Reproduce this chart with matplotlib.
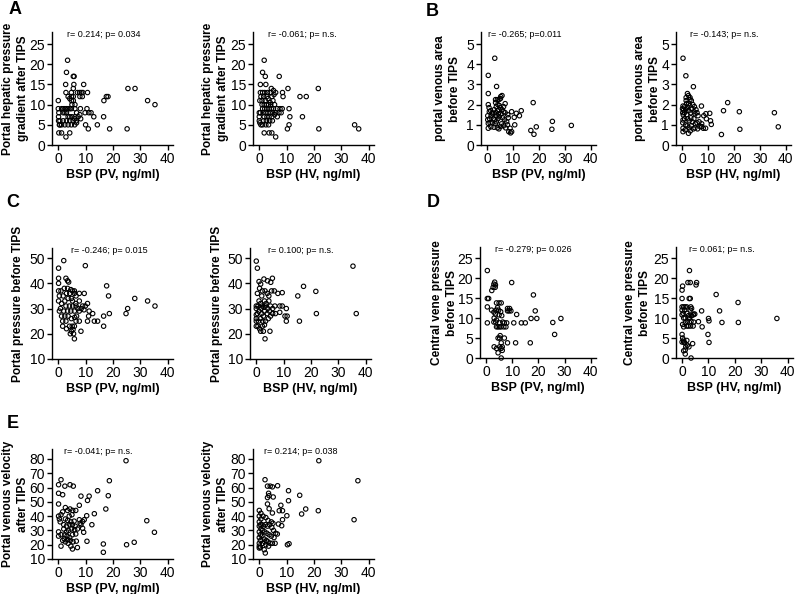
import matplotlib.pyplot as plt
import numpy as np

plt.rcParams['font.family'] = ['Liberation Sans', 'DejaVu Sans']

W, H = 800, 594

# A: portal hepatic pressure gradient after TIPS
a1_x = [3.4, 3, 5.5, 5.8, 2.7, 5.7, 9.3, 5.5, 2.8, 4.8, 7, 7.8, 8.4, 9, 10.7, 25.5, 28.1, 32.7, 35.4, 16.7,
        17.6, 18.2, 0, 3.6, 4.8, 4.2, 5.5, 7.9, 8.8, 10.5, 11.2, 12, 13, 8.1, 9.8, 16.6, 14.3, 18.8, 25.2, 10,
        11, 0.2, 1.2, 2.8, 4.2, 0, 0.2, 0.1, 0.1, 0.4, 1.2, 1.8, 2.4, 3, 3.6, 4.2, 4.8, 1.8, 2.4, 3,
        3.6, 4.2, 5, 0.6, 1.8, 3, 4.2, 5.4, 6, 0.6, 1.2, 2.4, 3.6, 4.8, 6, 6.6, 6.1, 7.3, 7.9, 6.7,
        6.1, 6.1, 5, 6.7, 8.2, 4.8, 5.5]
a1_y = [21, 18, 17, 17, 15, 15, 15, 14, 13, 13, 13, 13, 13, 13, 13, 14, 14, 11, 10, 11,
        12, 12, 11, 12, 12, 11.5, 11, 12, 12, 9, 8, 8, 7, 9, 8, 7, 5, 4, 4, 5,
        4, 3, 3, 2, 3, 9, 8, 7, 6, 5, 9, 9, 9, 9, 9, 9, 9, 8, 8, 8,
        7, 7, 7, 6, 6, 6, 6, 6, 6.5, 5, 5, 5, 5, 5, 5, 6, 7, 7, 7.5, 8,
        9, 10, 10, 5.5, 6.5, 11, 12]
a2_x = [1.8, 1.2, 2.2, 7.3, 0.4, 2.4, 0.4, 1.2, 2, 3, 4, 0.6, 1.6, 2.8, 4.6, 5.4, 4.4, 5.2, 6, 10.5,
        21.6, 14.9, 17.2, 8.5, 8.7, 10.9, 11.2, 15.8, 10.9, 10.3, 21.8, 34.9, 36.4, 1.8, 3.6, 4.6, 6, 0, 0.4, 0,
        0.2, 0.6, 0, 1, 1.8, 2.6, 3.4, 0.2, 1, 2.2, 3.2, 4.2, 1.2, 2, 2.8, 3.6, 4.4, 5.2, 6.6, 7.6,
        8.4, 1.4, 2.4, 3.2, 4, 5, 6, 7.2, 1.8, 2.8, 3.6, 4.6, 5.6, 6.6, 8, 1.6, 2.6, 3.8, 4.8, 1.2,
        2.4, 3.4, 4, 5, 5.6]
a2_y = [21, 18, 17, 17, 15, 15, 13, 13, 13, 13, 13, 12, 12, 12, 12, 12.5, 14, 13.5, 13, 14,
        14, 12, 12, 13, 12, 9, 7, 7, 5, 4, 4, 5, 4, 3, 3, 3, 2, 8, 8, 6,
        5.5, 5, 7, 10, 10, 10, 10, 11, 11, 11, 11.5, 10, 9, 9, 9, 9, 9, 9, 9, 9,
        9, 8, 8, 8, 8, 8, 8, 8, 7, 7, 7, 7, 7.5, 7, 8, 6, 6, 6, 6, 5,
        5, 5, 10.5, 11, 10]

# B: portal venous area before TIPS
b1_x = [3, 0.5, 3.7, 0.5, 3.3, 4, 4.6, 5.2, 5.8, 5.3, 0.5, 0.8, 7, 6.4, 17.8, 0.9, 13.2, 11.3, 10.5, 9.5,
        10.7, 16.9, 18.1, 19, 25.2, 25, 32.5, 0.5, 0.5, 1.5, 2.7, 4, 4.6, 5.2, 7.9, 8.9, 9.5, 8.4, 9.1, 0.3,
        0.3, 1, 1.6, 2.2, 1.4, 2, 2.8, 3.4, 4, 4.6, 5.2, 5.8, 6.4, 7, 2.4, 3, 3.6, 4.2, 4.8, 5.4,
        6, 6.8, 7.6, 8.2, 3.8, 4.4, 2, 1.2, 5.6, 6.4, 7.2, 3.2, 8, 12.5, 3.3, 4.2, 4.8, 3.6]
b1_y = [4.3, 3.45, 2.9, 2.55, 2.25, 2.25, 2.25, 2.3, 2.45, 2.4, 2.0, 1.85, 2.05, 1.9, 2.1, 1.65, 1.7, 1.57, 1.37, 1.65,
        1.0, 0.72, 0.53, 0.9, 1.17, 0.78, 0.97, 0.83, 1.07, 0.9, 0.88, 0.85, 0.8, 0.92, 1.0, 0.83, 0.66, 0.66, 0.6, 1.25,
        1.45, 1.3, 1.45, 1.55, 1.7, 1.6, 1.75, 1.6, 1.7, 1.75, 1.85, 1.75, 1.65, 1.6, 1.3, 1.25, 1.15, 1.3, 1.4, 1.55,
        1.35, 1.25, 1.15, 1.35, 1.45, 1.55, 1.1, 1.1, 1.05, 0.95, 0.85, 1.05, 1.5, 1.45, 2.1, 2.0, 1.95, 1.9]
b2_x = [0.4, 1.5, 4.4, 2.1, 2.5, 1.6, 3.1, 3.1, 1.6, 17.6, 16, 22.1, 35.6, 22.3, 37.1, 15.2, 7.5, 10.7, 9.2, 11,
        11.3, 8.2, 9.1, 7.6, 7, 0.4, 0.4, 2.5, 0.4, 0.5, 0.6, 0.4, 0.2, 0.3, 0.3, 1, 1, 1, 1.4, 1.8,
        2.2, 2.6, 3, 3.4, 3.8, 4.2, 4.6, 5, 5.4, 5.8, 6.2, 2.2, 2.8, 3.4, 4, 4.6, 5.2, 5.8, 6.6, 7.6,
        1.4, 2, 2.8, 3.6, 4.4, 5, 6, 1.2, 3.2, 8.4, 9.4, 1.8, 2.6, 3.6, 4.8]
b2_y = [4.3, 3.43, 2.89, 2.55, 2.45, 2.35, 2.35, 2.25, 2.2, 2.1, 1.7, 1.65, 1.6, 0.78, 0.9, 0.52, 1.93, 1.57, 1.55, 1.2,
        1.02, 0.83, 0.83, 0.91, 0.91, 0.83, 0.66, 0.58, 1.24, 1.49, 1.73, 1.93, 1.8, 1.6, 1.1, 1.3, 1.6, 1.9, 1.75, 1.5,
        1.85, 1.7, 1.95, 1.6, 1.8, 2.0, 1.65, 1.55, 1.75, 1.6, 1.45, 1.3, 1.2, 1.35, 1.15, 1.3, 1.05, 1.1, 1.15, 1.05,
        1.0, 0.95, 0.85, 0.95, 0.8, 0.85, 0.8, 0.75, 0.7, 1.45, 1.3, 2.05, 2.05, 2.2, 1.9]

# C: portal pressure before TIPS
c1_x = [0.1, 2, 9.9, 0.1, 0.1, 2.8, 3.4, 3.8, 17.7, 18.4, 28, 32.7, 35.4, 10.7, 7.7, 9.5, 25.4, 24.8, 18.7, 16.6,
        16.6, 11.3, 12.6, 13.2, 14.4, 11.1, 10.7, 8.3, 5.9, 1.6, 0.4, 0.1, 0.4, 0.1, 1, 2.2, 3.4, 4.6, 5.2, 5.9,
        5.9, 6.5, 7.7, 8.9, 9.9, 6.5, 5.3, 4.1, 2.8, 3.4, 4.6, 5.9, 7.7, 6.7, 7.7, 6.5, 2.8, 1.6, 4.1, 5.1,
        5.9, 4.8, 5.4, 1.2, 2.4, 3.6, 4.8, 1.8, 3, 4.2, 0.8, 2, 1.2, 2.4, 3.6, 4.8, 6, 7.2, 8.4, 9.4,
        5.2, 6.4, 3, 4.4, 5.6]
c1_y = [46, 49, 47, 42, 40, 42, 41, 40.5, 39, 35, 34, 33, 31, 32, 36, 36, 30, 28, 28, 27,
        23, 29, 28, 25, 25, 27, 25, 21, 18, 23, 29, 33, 35, 37, 37, 38, 38, 37.5, 37, 37,
        36, 35, 33, 31, 31, 31, 31, 31, 31, 29, 29, 29, 29, 27, 25, 25, 25, 25, 23, 23,
        23, 21, 21.7, 32, 33, 34, 34, 35, 36, 36, 30, 29, 27, 27, 27, 26, 26.5, 30, 30, 29.5,
        33, 32, 22, 20, 20]
c2_x = [0, 0.4, 35.4, 1, 1.6, 2.8, 4.1, 5.9, 5.3, 17.3, 21.8, 15.2, 9.5, 7.9, 36.6, 22, 15.8, 11, 11.3, 11,
        10.5, 7, 8.6, 9.5, 8.6, 5, 3.2, 2.6, 1.6, 0, 0, 0, 0, 0, 0, 0.4, 1.2, 2.2, 3.2, 4,
        4.6, 5.6, 6.6, 2, 3, 3.6, 3.4, 2.8, 1, 1.6, 2.2, 4.6, 5.2, 6, 6.8, 1, 2, 3, 4, 5.2,
        6, 0.8, 1.6, 2.4, 3.4, 4.4, 0.6, 1.2, 2.2, 3, 1.8, 0.4, 0.6, 4.2, 4.8, 2.6]
c2_y = [48.8, 46, 46.8, 40.7, 39.7, 41.7, 41, 42, 40.4, 38.8, 36.8, 35, 36.3, 36, 28, 28, 25, 30, 27, 25,
        27, 28, 31, 31, 28.5, 21, 18, 21, 21, 23, 25, 26, 27.5, 30, 31, 36, 38, 37, 37, 36,
        35, 37, 37, 35, 33, 32, 31, 30.5, 33, 32, 31, 33, 31, 30, 31, 29, 28, 29, 28, 27,
        28, 25, 26, 25, 25, 26, 23, 22, 23, 23.5, 30, 28, 31, 30, 29, 27]

# D: central vene pressure before TIPS
d1_x = [0.5, 0.5, 1, 0.5, 0.5, 2.7, 3, 3.3, 3.6, 3.5, 2.2, 9.8, 18.1, 18.8, 19.4, 25.5, 28.6, 26.2, 17.2, 16.9,
        11.7, 10.6, 13.5, 15, 11.3, 8.2, 9, 8.2, 8.8, 9.5, 4, 5, 5.8, 2.1, 3, 3.9, 4.8, 3.6, 3.1, 4,
        3, 3.7, 4, 4.6, 5.2, 5.8, 6.8, 7.6, 7, 7.9, 5.2, 6.4, 4.6, 5.2, 5.4, 5.8, 7, 8.2, 3.1, 4,
        5.2, 5.8, 4.6, 5.8, 6.2, 6.2, 5, 5.6, 4.4, 6]
d1_y = [21.9, 14.9, 14.9, 12.8, 8.8, 17.7, 18.5, 19, 18.3, 17.7, 16.9, 18.9, 15.8, 11.8, 9.9, 8.9, 9.9, 5.9, 9.9, 3.8,
        10.9, 8.8, 8.8, 8.8, 3.8, 12.4, 12.4, 11.8, 11.8, 11.8, 13.8, 13.8, 13.8, 12, 11.5, 12, 12, 11, 10, 9.5,
        9, 9, 7.8, 7.8, 7.8, 7.8, 7.8, 7.8, 8.8, 8.8, 8.8, 9, 5, 5, 5.6, 3.8, 5, 3.8, 2.8, 2.4,
        2.8, 2.4, 1.3, 0, 1.9, 2.8, 10.8, 11.6, 12.6, 10.6]
d2_x = [2.8, 2.2, 3.1, 5.5, 5.3, 0.2, 0, 12.9, 21.2, 14.2, 15.1, 21.3, 35.9, 10, 10.2, 9.8, 10.2, 7.4, 6.2, 7.6,
        2.7, 3.1, 0, 3.3, 3.6, 3.1, 0, 0.6, 1.2, 1.8, 1, 0, 0.4, 0, 0.6, 1.2, 1.8, 2.4, 2.8, 3.6,
        4.2, 4.4, 4.8, 2, 2.6, 3.4, 4.4, 1.8, 2.4, 3.2, 4.2, 0.2, 0.6, 1.2, 0, 0.2, 0, 0.6, 0.6, 1,
        1.4, 1.2, 0.6, 1.2, 3.4, 2, 2.6, 4, 1.8]
d2_y = [21.9, 18.9, 18.9, 18.9, 18.3, 18, 17, 15.9, 13.9, 11.8, 8.9, 8.9, 9.9, 9.9, 9.3, 5.9, 3.9, 11.8, 9.1, 7.8,
        14.9, 14.9, 14.9, 12.8, 12.4, 12, 12.8, 12.8, 12.8, 12.8, 12, 12, 11.2, 10.8, 10, 10, 11.2, 10.6, 10, 10.6,
        10.8, 11, 11, 9.2, 9.8, 9.2, 9, 8, 8, 8, 8, 8.4, 7.8, 8.8, 5.9, 5, 4, 4.5, 4, 3.8,
        2.8, 2, 1.8, 1, 0, 3.2, 2.8, 3.6, 4.4]

# E: portal venous velocity after TIPS
e1_x = [24.8, 18.7, 14.4, 18.3, 17.4, 1, 0.1, 0.1, 1.6, 2.4, 4.3, 5.5, 0.1, 8.3, 11.3, 10.7, 7.7, 13.2, 10.4, 32.4,
        35.2, 25, 27.8, 16.5, 16.5, 12.3, 9.3, 10.5, 8.9, 8.3, 8, 8.9, 9.5, 7.7, 0.1, 0.4, 0.7, 0.1, 0.1, 1,
        1.6, 2.6, 3.4, 4.3, 5.3, 6.4, 4, 5, 2.6, 3.4, 4.6, 5.8, 2, 3, 4.2, 5.2, 6.2, 7, 2, 3,
        3.8, 4.8, 6, 1, 2.4, 3.2, 4.2, 5.2, 6.4, 1.6, 2.6, 3.6, 4.4, 5.4, 6.6, 1, 4.6, 5.2, 7, 2.2,
        3.4]
e1_y = [78.8, 64.8, 57.8, 54.3, 45, 65.5, 62, 56, 55, 61, 62, 61, 48.5, 54, 54, 51, 47.6, 41.7, 40.3, 36.8,
        28.7, 20, 21.7, 20.5, 14.7, 34, 28.7, 22.4, 31.5, 34, 35, 36.3, 37.5, 37.5, 40, 38, 36, 29, 26, 41,
        43, 46, 44, 45, 44, 44, 40, 41, 38, 37, 36, 36.5, 34, 33, 34, 34, 33, 31, 31, 29,
        30, 31, 30.5, 27, 27, 26, 25, 27, 27.5, 23, 22, 21, 23, 22, 22.5, 19, 19, 17, 18, 24,
        23.5]
e2_x = [21.8, 36.1, 2.1, 3, 4, 4.8, 6.7, 3, 3.6, 3.4, 5.1, 10.7, 10.7, 14.8, 17, 15.5, 21.6, 34.7, 7.9, 7.3,
        8.5, 10.1, 8.5, 7, 8.2, 10.3, 10.9, 3, 3.6, 4.8, 2.2, 1.8, 0, 0, 0.4, 0, 0.6, 0, 0.6, 0,
        0.4, 0, 0.6, 0, 0.4, 0, 0.4, 0, 1, 1.6, 2.2, 3, 3.8, 4.6, 5.2, 6, 6.6, 1.4, 2.4, 3.2,
        4.4, 5, 1.2, 2, 2.8, 3.6, 4.4, 5.4, 1, 1.8, 2.6, 3.2, 4, 4.8, 5.8, 2.4, 3.4, 1.2, 2]
e2_y = [78.8, 64.8, 65.5, 61, 61, 60.5, 61.3, 53, 54.3, 56, 53.4, 57.8, 50.8, 54.6, 45, 41.5, 43.8, 37.5, 47.6, 43.8,
        43.8, 40.3, 37.5, 34.5, 33.3, 20, 20.7, 48.5, 45.2, 42.2, 14.2, 16.5, 17.7, 19, 18, 44, 42, 40, 38, 36,
        34, 33, 31, 29, 27, 25, 23, 21, 34, 33, 34, 33, 34, 32, 30, 28, 27.5, 40, 39, 37,
        36, 35, 30, 29, 28, 27, 26, 25, 26, 24, 23, 22, 21, 21, 21, 20, 19, 21, 22]

xticks = [0, 10, 20, 30, 40]

fig = plt.figure(figsize=(8, 5.94), dpi=100)


def panel(l, t, r, b, x, y, ylim, yticks, ylabel, ylab_px, xlabel, note, note_x):
    ax = fig.add_axes([l / W, 1 - b / H, (r - l) / W, (b - t) / H])
    ax.scatter(x, y, s=10, facecolors='none', edgecolors='black', linewidths=0.8, clip_on=False)
    ax.set_xlim(-2.3, 42)
    ax.set_ylim(*ylim)
    ax.set_xticks(xticks)
    ax.set_yticks(yticks)
    for s in ['top', 'right']:
        ax.spines[s].set_visible(False)
    for s in ['left', 'bottom']:
        ax.spines[s].set_linewidth(1.0)
    ax.tick_params(direction='out', length=3.5, width=1.0, labelsize=10, pad=1.5)
    ax.set_ylabel(ylabel, fontsize=8.6, fontweight='bold', linespacing=1.3)
    ax.yaxis.set_label_coords((ylab_px - l) / (r - l), 0.5)
    ax.set_xlabel(xlabel, fontsize=9, fontweight='bold', labelpad=2)
    ax.text(note_x, 0.978, note, transform=ax.transAxes, fontsize=6.5, va='center', ha='left')
    return ax


ya = [0, 5, 10, 15, 20, 25]
yb = [0, 1, 2, 3, 4, 5]
yc = [10, 20, 30, 40, 50]
ye = [10, 20, 30, 40, 50, 60, 70, 80]

lab_a = 'Portal hepatic pressure\ngradient after TIPS'
lab_b = 'portal venous area\nbefore TIPS'
lab_c = 'Portal pressure before TIPS'
lab_d = 'Central vene pressure\nbefore TIPS'
lab_e = 'Portal venous velocity\nafter TIPS'
pv = 'BSP (PV, ng/ml)'
hv = 'BSP (HV, ng/ml)'

panel(52, 32, 173, 145, a1_x, a1_y, (0, 28), ya, lab_a, 29, pv, 'r= 0.214; p= 0.034', 0.12)
panel(253, 32, 374, 145, a2_x, a2_y, (0, 28), ya, lab_a, 229, hv, 'r= -0.061; p= n.s.', 0.12)
panel(481, 32, 596, 145, b1_x, b1_y, (0, 5.6), yb, lab_b, 461, pv, 'r= -0.265; p=0.011', 0.06)
panel(676, 32, 791, 145, b2_x, b2_y, (0, 5.6), yb, lab_b, 661, hv, 'r= -0.143; p= n.s.', 0.12)
panel(52, 248, 173, 359, c1_x, c1_y, (10, 54), yc, lab_c, 24, pv, 'r= -0.246; p= 0.015', 0.16)
panel(250, 248, 371, 359, c2_x, c2_y, (10, 54), yc, lab_c, 223, hv, 'r= 0.100; p= n.s.', 0.15)
panel(480, 247, 596, 358, d1_x, d1_y, (0, 27.8), ya, lab_d, 458, pv, 'r= -0.279; p= 0.026', 0.13)
panel(676, 247, 793, 358, d2_x, d2_y, (0, 27.8), ya, lab_d, 651, hv, 'r= 0.061; p= n.s.', 0.11)
panel(52, 449, 173, 559, e1_x, e1_y, (10, 87), ye, lab_e, 29, pv, 'r= -0.041; p= n.s.', 0.10)
panel(253, 449, 374, 559, e2_x, e2_y, (10, 87), ye, lab_e, 229, hv, 'r= 0.214; p= 0.038', 0.09)

for letter, px, py in [('A', 15, 10), ('B', 432, 12), ('C', 13, 203), ('D', 433, 203), ('E', 13, 423)]:
    fig.text(px / W, 1 - py / H, letter, fontsize=13, fontweight='bold', ha='center', va='center')

fig.savefig('out.png', dpi=100, facecolor='white')
